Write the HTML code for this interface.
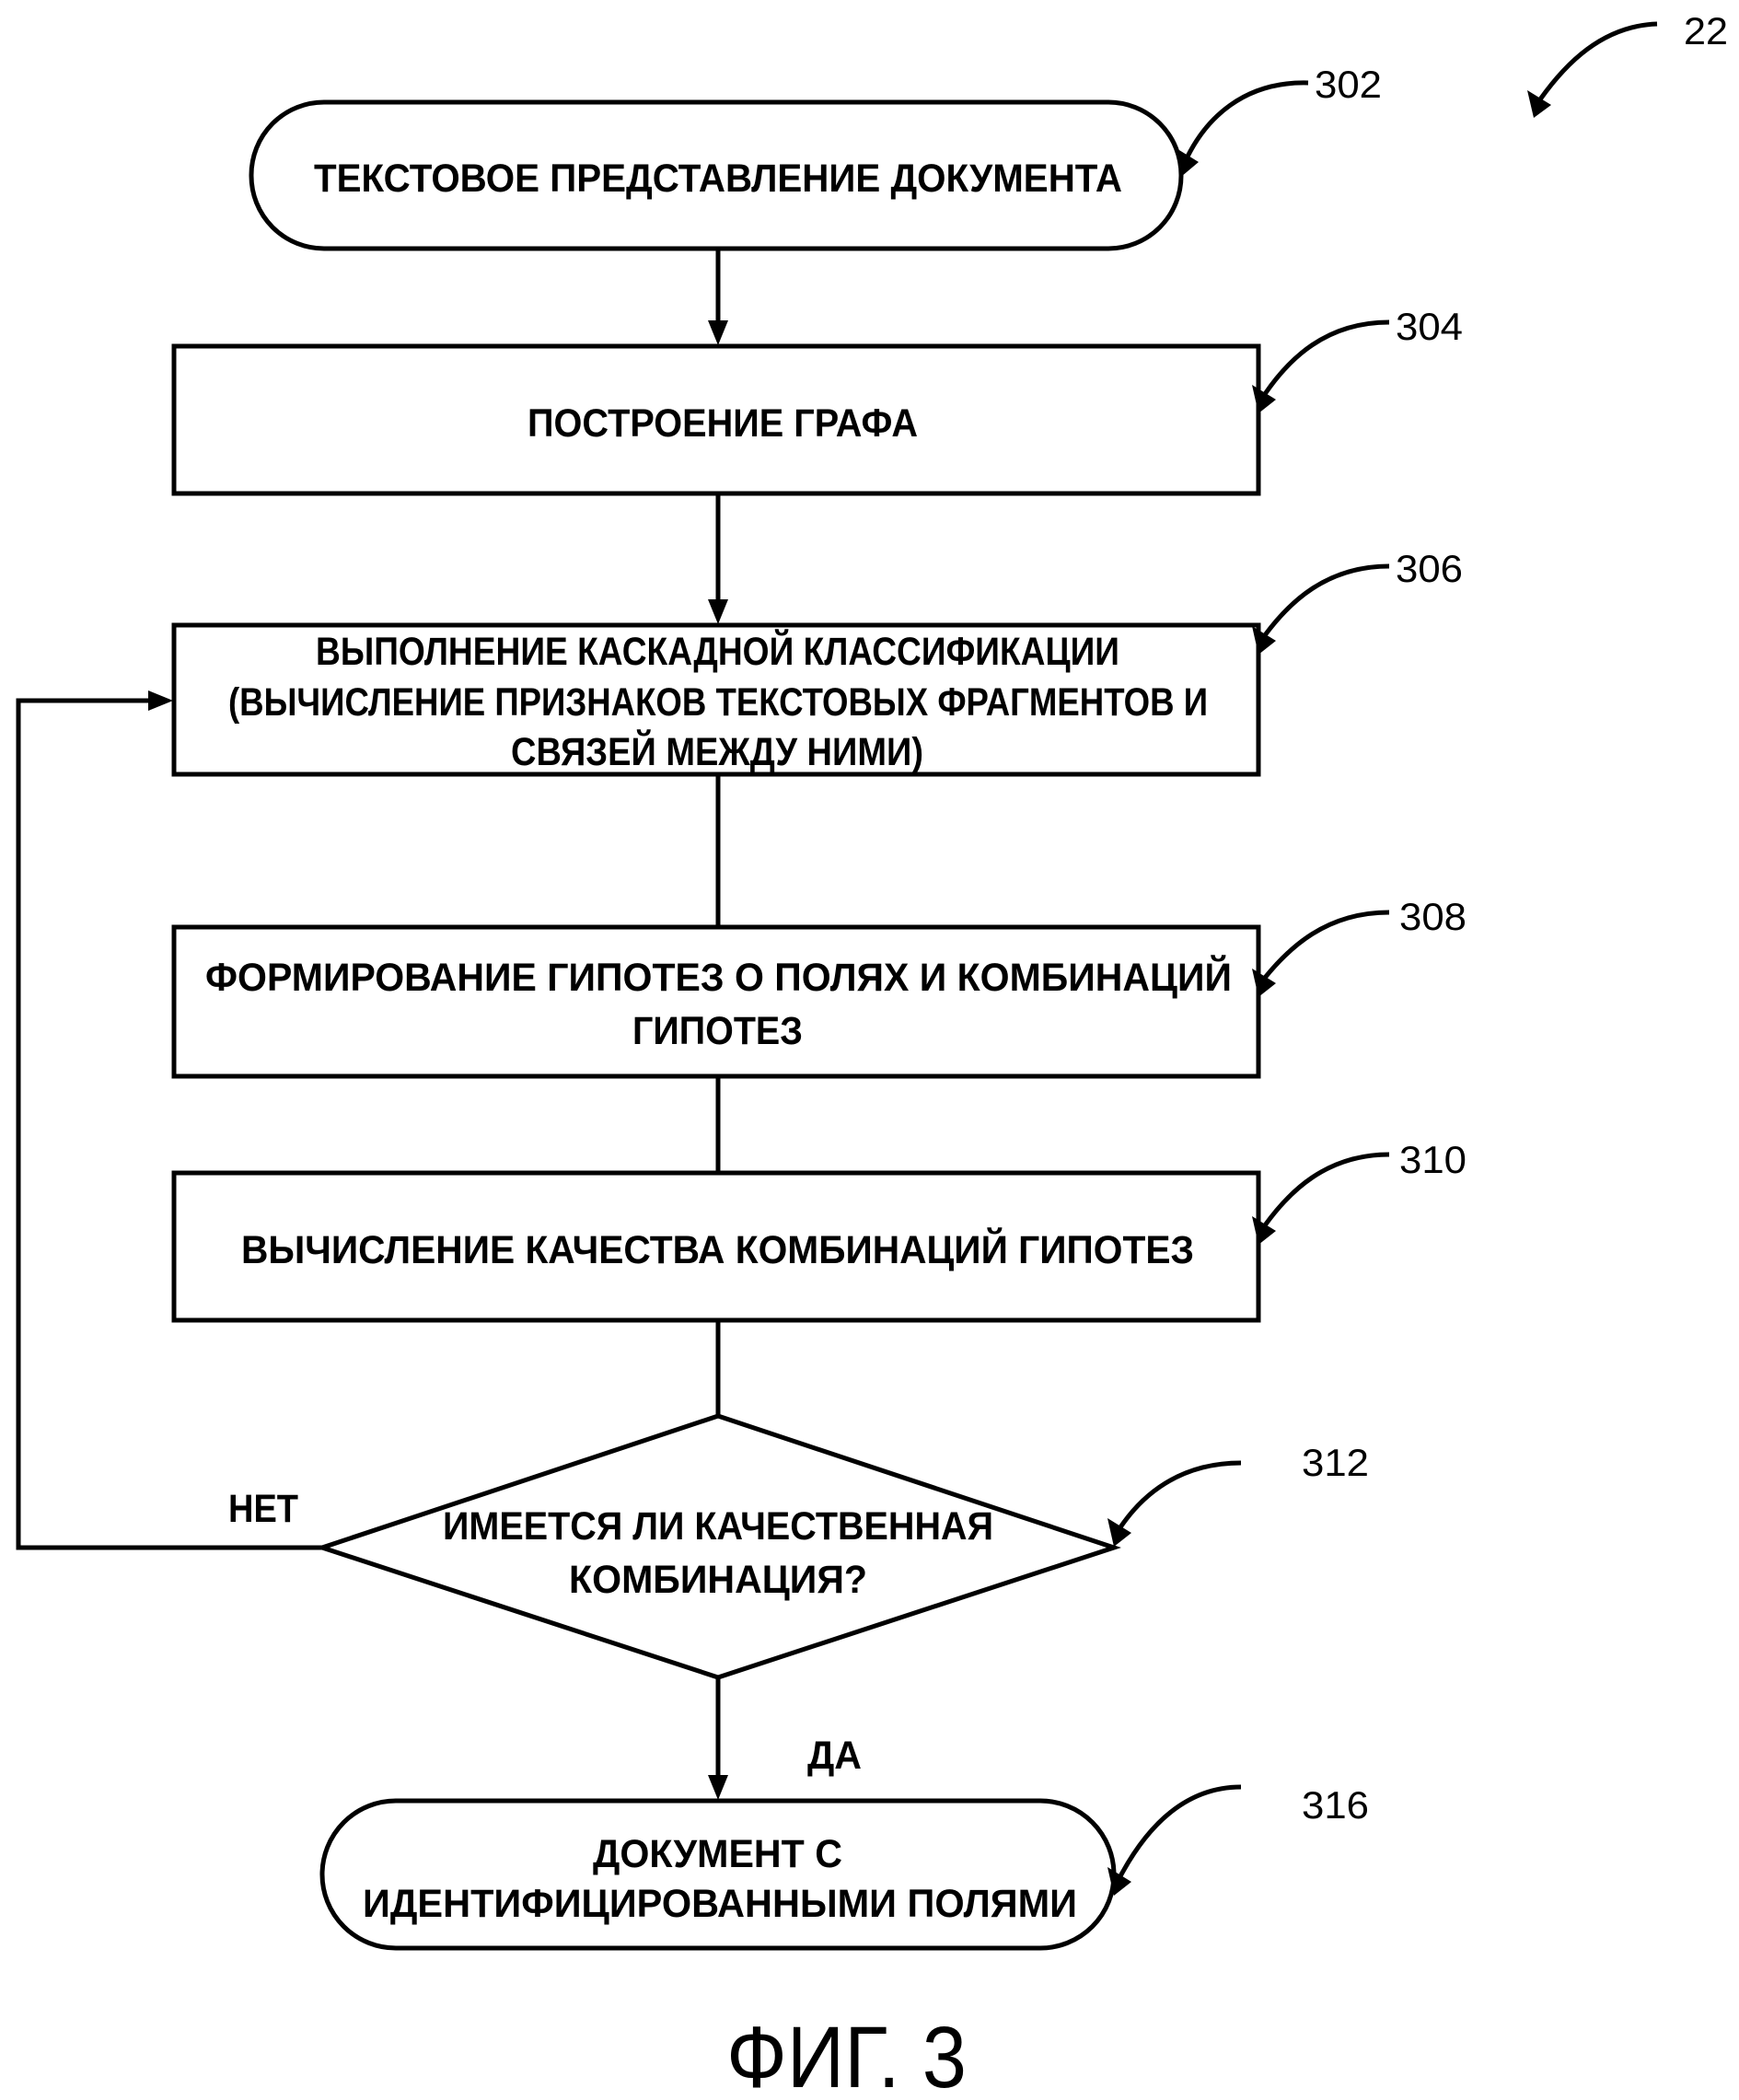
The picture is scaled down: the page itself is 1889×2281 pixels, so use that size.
<!DOCTYPE html>
<html><head><meta charset="utf-8"><style>
html,body{margin:0;padding:0;background:#fff;}
svg{display:block;}
text{font-family:"Liberation Sans",sans-serif;font-weight:bold;fill:#000;}
</style></head><body>
<svg width="1889" height="2281" viewBox="0 0 1889 2281" xmlns="http://www.w3.org/2000/svg">
<g fill="none" stroke="#000" stroke-width="5">
<rect x="273" y="111" width="1010" height="159" rx="79"/>
<rect x="189" y="376" width="1178" height="160"/>
<rect x="189" y="679" width="1178" height="162"/>
<rect x="189" y="1007" width="1178" height="162"/>
<rect x="189" y="1274" width="1178" height="160"/>
<polygon points="780,1538 1210,1681 780,1822 350,1681"/>
<rect x="350" y="1956" width="860" height="160" rx="80"/>
<line x1="780" y1="270" x2="780" y2="352"/>
<line x1="780" y1="536" x2="780" y2="655"/>
<line x1="780" y1="841" x2="780" y2="1007"/>
<line x1="780" y1="1169" x2="780" y2="1274"/>
<line x1="780" y1="1434" x2="780" y2="1538"/>
<line x1="780" y1="1822" x2="780" y2="1932"/>
<polyline points="350,1681 20,1681 20,761 165,761"/>
</g>
<g fill="#000">
<polygon points="769,348 791,348 780,375"/>
<polygon points="769,651 791,651 780,678"/>
<polygon points="769,1928 791,1928 780,1955"/>
<polygon points="161,750 161,772 188,761"/>
</g>
<g fill="none" stroke="#000" stroke-width="5">
<path d="M1421,90 C1350,88 1310,130 1290,170"/>
<path d="M1800,26 C1740,28 1700,70 1673,108"/>
<path d="M1509,350 C1440,350 1400,390 1374,428"/>
<path d="M1509,615 C1440,615 1400,655 1374,690"/>
<path d="M1509,991 C1440,991 1400,1030 1374,1062"/>
<path d="M1509,1254 C1440,1254 1400,1295 1374,1331"/>
<path d="M1348,1589 C1280,1589 1240,1625 1217,1659"/>
<path d="M1348,1941 C1280,1941 1240,1995 1217,2038"/>
</g>
<g fill="#000">
<polygon points="1276,160 1302,176 1283,192"/>
<polygon points="1659,98 1685,114 1666,128"/>
<polygon points="1360,418 1386,434 1367,449"/>
<polygon points="1360,680 1386,696 1367,711"/>
<polygon points="1360,1052 1386,1068 1367,1083"/>
<polygon points="1360,1321 1386,1337 1367,1352"/>
<polygon points="1203,1649 1229,1665 1210,1680"/>
<polygon points="1203,2028 1229,2044 1210,2059"/>
</g>
<g font-size="43">
<text x="341" y="208" textLength="878" lengthAdjust="spacingAndGlyphs">ТЕКСТОВОЕ ПРЕДСТАВЛЕНИЕ ДОКУМЕНТА</text>
<text x="573" y="474" textLength="424" lengthAdjust="spacingAndGlyphs">ПОСТРОЕНИЕ ГРАФА</text>
<text x="343" y="722" textLength="873" lengthAdjust="spacingAndGlyphs">ВЫПОЛНЕНИЕ КАСКАДНОЙ КЛАССИФИКАЦИИ</text>
<text x="248" y="777" textLength="1064" lengthAdjust="spacingAndGlyphs">(ВЫЧИСЛЕНИЕ ПРИЗНАКОВ ТЕКСТОВЫХ ФРАГМЕНТОВ И</text>
<text x="555" y="831" textLength="448" lengthAdjust="spacingAndGlyphs">СВЯЗЕЙ МЕЖДУ НИМИ)</text>
<text x="223" y="1076" textLength="1115" lengthAdjust="spacingAndGlyphs">ФОРМИРОВАНИЕ ГИПОТЕЗ О ПОЛЯХ И КОМБИНАЦИЙ</text>
<text x="687" y="1134" textLength="185" lengthAdjust="spacingAndGlyphs">ГИПОТЕЗ</text>
<text x="262" y="1372" textLength="1035" lengthAdjust="spacingAndGlyphs">ВЫЧИСЛЕНИЕ КАЧЕСТВА   КОМБИНАЦИЙ ГИПОТЕЗ</text>
<text x="481" y="1672" textLength="598" lengthAdjust="spacingAndGlyphs">ИМЕЕТСЯ ЛИ КАЧЕСТВЕННАЯ</text>
<text x="618" y="1730" textLength="324" lengthAdjust="spacingAndGlyphs">КОМБИНАЦИЯ?</text>
<text x="248" y="1653" textLength="76" lengthAdjust="spacingAndGlyphs">НЕТ</text>
<text x="877" y="1921" textLength="59" lengthAdjust="spacingAndGlyphs">ДА</text>
<text x="644" y="2028" textLength="271" lengthAdjust="spacingAndGlyphs">ДОКУМЕНТ С</text>
<text x="394" y="2082" textLength="776" lengthAdjust="spacingAndGlyphs">ИДЕНТИФИЦИРОВАННЫМИ ПОЛЯМИ</text>
</g>
<g font-size="42">
<text x="1428" y="106" textLength="73" lengthAdjust="spacingAndGlyphs" style="font-weight:normal">302</text>
<text x="1516" y="369" textLength="73" lengthAdjust="spacingAndGlyphs" style="font-weight:normal">304</text>
<text x="1516" y="632" textLength="73" lengthAdjust="spacingAndGlyphs" style="font-weight:normal">306</text>
<text x="1520" y="1010" textLength="73" lengthAdjust="spacingAndGlyphs" style="font-weight:normal">308</text>
<text x="1520" y="1274" textLength="73" lengthAdjust="spacingAndGlyphs" style="font-weight:normal">310</text>
<text x="1414" y="1603" textLength="73" lengthAdjust="spacingAndGlyphs" style="font-weight:normal">312</text>
<text x="1414" y="1975" textLength="73" lengthAdjust="spacingAndGlyphs" style="font-weight:normal">316</text>
<text x="1829" y="48" textLength="48" lengthAdjust="spacingAndGlyphs" style="font-weight:normal">22</text>
<text x="789" y="2267" font-size="95" textLength="261" lengthAdjust="spacingAndGlyphs" style="font-weight:normal">ФИГ. 3</text>
</g>
</svg>
</body></html>
